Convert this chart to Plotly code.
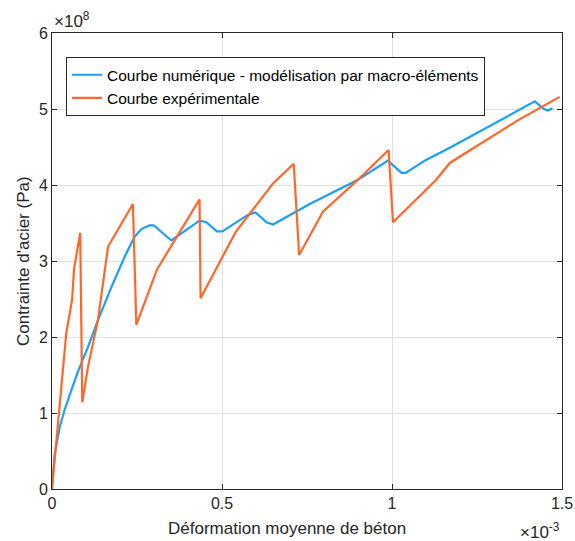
import plotly.graph_objects as go

# Numerical curve (strain in 1e-3, stress in 1e8 Pa)
num_strain = [0, 0.008, 0.023, 0.037, 0.057, 0.076, 0.106, 0.135, 0.175, 0.214, 0.243,
              0.263, 0.287, 0.299, 0.351, 0.434, 0.454, 0.485, 0.501, 0.577, 0.599,
              0.631, 0.65, 0.758, 0.9, 0.988, 1.028, 1.04, 1.10, 1.17, 1.42, 1.447,
              1.459, 1.472]
num_stress = [0, 0.47, 0.82, 1.04, 1.30, 1.54, 1.87, 2.22, 2.66, 3.06, 3.32,
              3.42, 3.47, 3.47, 3.27, 3.53, 3.51, 3.39, 3.39, 3.61, 3.64,
              3.51, 3.48, 3.75, 4.07, 4.32, 4.16, 4.16, 4.33, 4.49, 5.10, 5.00,
              4.98, 5.01]

# Experimental curve
exp_strain = [0, 0.026, 0.042, 0.059, 0.065, 0.083, 0.089, 0.106, 0.135, 0.165, 0.209,
              0.238, 0.248, 0.309, 0.434, 0.437, 0.54, 0.65, 0.711, 0.727, 0.797, 0.9,
              0.99, 1.003, 1.13, 1.17, 1.366, 1.493]
exp_stress = [0, 1.21, 2.05, 2.49, 2.90, 3.37, 1.14, 1.61, 2.22, 3.19, 3.52,
              3.75, 2.16, 2.89, 3.81, 2.51, 3.38, 4.02, 4.28, 3.08, 3.65, 4.07,
              4.46, 3.51, 4.07, 4.29, 4.84, 5.16]

x_ticks = [0, 0.5, 1, 1.5]
x_ticktext = ["0", "0.5", "1", "1.5"]
y_ticks = [0, 1, 2, 3, 4, 5, 6]
y_ticktext = ["0", "1", "2", "3", "4", "5", "6"]

XS, YS = 1e-3, 1e8

FONT = "Liberation Sans, Arial, sans-serif"
AX = "#262626"

fig = go.Figure()
fig.add_trace(go.Scatter(x=[v * XS for v in num_strain], y=[v * YS for v in num_stress],
                         mode="lines", line=dict(color="#1a9ff5", width=2.2),
                         name="Courbe numérique - modélisation par macro-éléments"))
fig.add_trace(go.Scatter(x=[v * XS for v in exp_strain], y=[v * YS for v in exp_stress],
                         mode="lines", line=dict(color="#ff6628", width=2.2),
                         name="Courbe expérimentale"))

axis_common = dict(showline=True, linecolor=AX, linewidth=1, mirror="ticks",
                   ticks="inside", ticklen=5, tickcolor=AX, showgrid=True,
                   gridcolor="#e0e0e0", gridwidth=1, zeroline=False, automargin=False,
                   tickfont=dict(family=FONT, size=16, color=AX))

fig.update_xaxes(range=[0, 1.5 * XS], tickvals=[v * XS for v in x_ticks],
                 ticktext=x_ticktext, **axis_common)
fig.update_yaxes(range=[0, 6 * YS], tickvals=[v * YS for v in y_ticks],
                 ticktext=y_ticktext, **axis_common)

fig.update_layout(
    width=575, height=541,
    margin=dict(l=52, r=13, t=33, b=52),
    paper_bgcolor="white", plot_bgcolor="white",
    showlegend=True,
    legend=dict(x=0.0275, y=0.947, xanchor="left", yanchor="top",
                bgcolor="white", bordercolor=AX, borderwidth=1,
                font=dict(family=FONT, size=15.5, color="black"),
                tracegroupgap=0),
    annotations=[
        dict(text="Déformation moyenne de béton", xref="paper", yref="paper",
             x=0.46, y=-0.062, xanchor="center", yanchor="top", showarrow=False,
             font=dict(family=FONT, size=17, color=AX)),
        dict(text="Contrainte d'acier (Pa)", xref="paper", yref="paper",
             x=-0.057, y=0.5, xanchor="center", yanchor="middle", textangle=-90,
             showarrow=False, font=dict(family=FONT, size=17, color=AX)),
        dict(text="×10<sup>8</sup>", xref="paper", yref="paper",
             x=0.0, y=1.0, xanchor="left", yanchor="bottom", showarrow=False,
             font=dict(family=FONT, size=17, color=AX)),
        dict(text="×10<sup>-3</sup>", xref="paper", yref="paper",
             x=1.0, y=-0.064, xanchor="right", yanchor="top", showarrow=False,
             font=dict(family=FONT, size=17, color=AX)),
    ],
)

fig.write_html("out.html", config={"displayModeBar": False},
               post_script="document.body.style.margin='0';")
